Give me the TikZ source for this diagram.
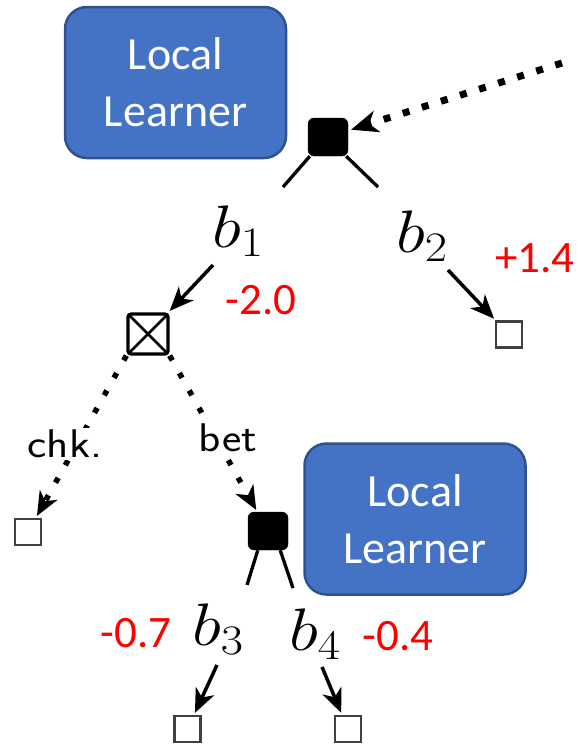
\RequirePackage{fix-cm}
\documentclass[tikz,border=0pt]{standalone}
\usepackage{fontspec}
\usepackage{graphicx}
\newfontfamily\calibri{Carlito}
\usetikzlibrary{arrows.meta}
\definecolor{llblue}{HTML}{4472C4}
\definecolor{llborder}{HTML}{2F528F}
\definecolor{valred}{HTML}{FF0000}
\begin{document}
\begin{tikzpicture}[x=1pt,y=-1pt,
 learner/.style={draw=llborder, line width=2.5pt, fill=llblue, rounded corners=22pt, minimum width=221pt, minimum height=151pt, text=white, align=center, inner sep=0, font=\calibri\fontsize{46}{57}\selectfont},
 decnode/.style={fill=black, draw=black, rounded corners=6pt, minimum width=40pt, minimum height=38pt, inner sep=0},
 chancenode/.style={draw=black, line width=3.2pt, rounded corners=3pt, minimum size=40pt, inner sep=0},
 leaf/.style={draw=black!75, line width=2.5pt, minimum size=26pt, inner sep=0},
 act/.style={anchor=base west, inner sep=0, font=\fontsize{60}{60}\selectfont},
 val/.style={text=valred, font=\calibri\fontsize{45}{45}\selectfont, inner sep=0},
 lbl/.style={fill=white, inner sep=2pt, font=\sffamily\fontsize{40}{40}\selectfont},
 branch/.style={line width=3.3pt},
 solidarrow/.style={line width=3.5pt, -{Stealth[length=24pt,width=20pt,inset=7pt]}, shorten >=2pt},
 dotarrow/.style={line width=5.5pt, dash pattern=on 5.5pt off 14.5pt, -{Stealth[length=24pt,width=20pt,inset=7pt]}, shorten >=2pt},
 bigdot/.style={line width=7pt, dash pattern=on 7pt off 13pt, -{Stealth[length=27pt,width=22pt,inset=8pt]}, shorten >=3pt},
]
\useasboundingbox (0,0) rectangle (585,748);

% learner boxes
\node[learner] (ll1) at (175.5,82.5) {Local\\Learner};
\node[learner] (ll2) at (415,519) {Local\\Learner};

% game tree nodes
\node[decnode] (root) at (328,137) {};
\node[chancenode] (chance) at (148,334) {};
\node[decnode] (dec2) at (268,531) {};
\node[leaf] (leafb2) at (509,334.5) {};
\node[leaf] (leafchk) at (28,532) {};
\node[leaf] (leafb3) at (187.5,729) {};
\node[leaf] (leafb4) at (348,729) {};

% X in chance node
\draw[line width=2.8pt] ([shift={(3,3)}]chance.north west) -- ([shift={(-3,-3)}]chance.south east);
\draw[line width=2.8pt] ([shift={(-3,3)}]chance.north east) -- ([shift={(3,-3)}]chance.south west);

% incoming dotted arrow
\coordinate (in) at (562,63);
\draw[bigdot] (in) -- (root);

% branches of root
\coordinate (r1) at (283,187);
\coordinate (r2) at (378,187);
\draw[branch] ([xshift=2pt]root.south west) -- (r1);
\draw[branch] ([xshift=-2pt]root.south east) -- (r2);

% branches of dec2
\coordinate (d1) at (247,585);
\coordinate (d2) at (293,588);
\draw[branch] ([xshift=10pt]dec2.south west) -- (d1);
\draw[branch] ([xshift=-8pt]dec2.south east) -- (d2);

% action labels
\node[act] (b1) at (212,247) {\scalebox{1.15}[1]{$b_1$}};
\node[act] (b2) at (396,252) {\scalebox{1.15}[1]{$b_2$}};
\node[act] (b3) at (192,645) {\scalebox{1.15}[1]{$b_3$}};
\node[act] (b4) at (289,650) {\scalebox{1.15}[1]{$b_4$}};

% solid arrows
\coordinate (s1) at (213,265);
\coordinate (s2) at (448,270);
\coordinate (s3) at (217,665);
\coordinate (s4) at (322,667);
\draw[solidarrow] (s1) -- (chance);
\draw[solidarrow] (s2) -- (leafb2);
\draw[solidarrow] (s3) -- (leafb3);
\draw[solidarrow] (s4) -- (leafb4);

% dotted chance arrows
\draw[dotarrow] (chance.south west) -- (leafchk);
\draw[dotarrow] (chance.south east) -- (dec2);
\node[lbl] (chk) at (65,444) {\scalebox{1.15}[1]{chk.}};
\node[lbl] (bet) at (228,438) {\scalebox{1.15}[1]{bet}};

% values
\node[val] (v1) at (261,300) {-2.0};
\node[val] (v2) at (535,258) {+1.4};
\node[val] (v3) at (136,633) {-0.7};
\node[val] (v4) at (398,636) {-0.4};
\end{tikzpicture}
\end{document}
